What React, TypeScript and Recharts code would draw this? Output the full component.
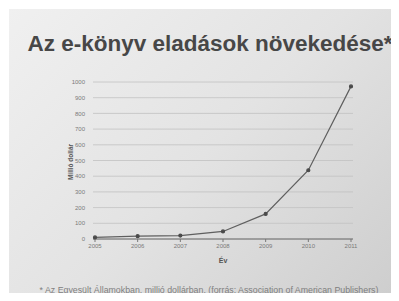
import {
  LineChart,
  Line,
  XAxis,
  YAxis,
  CartesianGrid,
} from "recharts";

const years = ["2005", "2006", "2007", "2008", "2009", "2010", "2011"];
const sales = [10, 18, 22, 48, 160, 438, 972];
const yTicks = [0, 100, 200, 300, 400, 500, 600, 700, 800, 900, 1000];

const chartData = years.map((year, i) => ({ year, sales: sales[i] }));

const FONT = "'Liberation Sans', Arial, sans-serif";

export default function App() {
  return (
    <div
      style={{
        position: "relative",
        width: 399,
        height: 301,
        margin: -8,
        background: "#ffffff",
        overflow: "hidden",
        fontFamily: FONT,
      }}
    >
      <div
        style={{
          position: "absolute",
          left: 9,
          top: 9,
          width: 390,
          height: 292,
          background:
            "linear-gradient(135deg, #f0f0f0 0%, #e3e3e3 50%, #cdcdcd 100%)",
        }}
      />
      <div
        style={{
          position: "absolute",
          left: 15,
          top: 31,
          width: 390,
          textAlign: "center",
          fontSize: 22.5,
          fontWeight: "bold",
          color: "#474747",
          whiteSpace: "nowrap",
        }}
      >
        Az e-könyv eladások növekedése*
      </div>

      <div style={{ position: "absolute", left: 0, top: 0 }}>
        <LineChart
          width={399}
          height={301}
          data={chartData}
          margin={{ top: 82, right: 46, left: 63, bottom: 42 }}
        >
          <CartesianGrid vertical={false} stroke="#c2c2c2" strokeWidth={0.8} />
          <XAxis
            dataKey="year"
            padding={{ left: 2, right: 2 }}
            tick={{ fill: "#7a7a7a", fontSize: 6, fontFamily: FONT }}
            tickLine={{ stroke: "#777" }}
            tickSize={3}
            axisLine={{ stroke: "#6a6a6a" }}
            height={20}
          />
          <YAxis
            width={30}
            domain={[0, 1000]}
            ticks={yTicks}
            interval={0}
            tick={{ fill: "#7a7a7a", fontSize: 6, fontFamily: FONT }}
            tickLine={false}
            axisLine={false}
          />
          <Line
            type="linear"
            dataKey="sales"
            stroke="#5f5f5f"
            strokeWidth={1.2}
            dot={{ r: 1.5, fill: "#4a4a4a", stroke: "#4a4a4a" }}
            isAnimationActive={false}
          />
        </LineChart>
      </div>

      <div
        style={{
          position: "absolute",
          left: 70,
          top: 162,
          transform: "translate(-50%, -50%) rotate(-90deg)",
          fontSize: 6.5,
          fontWeight: "bold",
          color: "#555",
          whiteSpace: "nowrap",
        }}
      >
        Millió dollár
      </div>
      <div
        style={{
          position: "absolute",
          left: 223,
          top: 260,
          transform: "translate(-50%, -50%)",
          fontSize: 7,
          fontWeight: "bold",
          color: "#555",
        }}
      >
        Év
      </div>
      <div
        style={{
          position: "absolute",
          left: 14,
          top: 290,
          width: 390,
          transform: "translateY(-50%)",
          textAlign: "center",
          fontSize: 8.8,
          color: "#808080",
          whiteSpace: "nowrap",
        }}
      >
        * Az Egyesült Államokban, millió dollárban. (forrás: Association of American Publishers)
      </div>
    </div>
  );
}
